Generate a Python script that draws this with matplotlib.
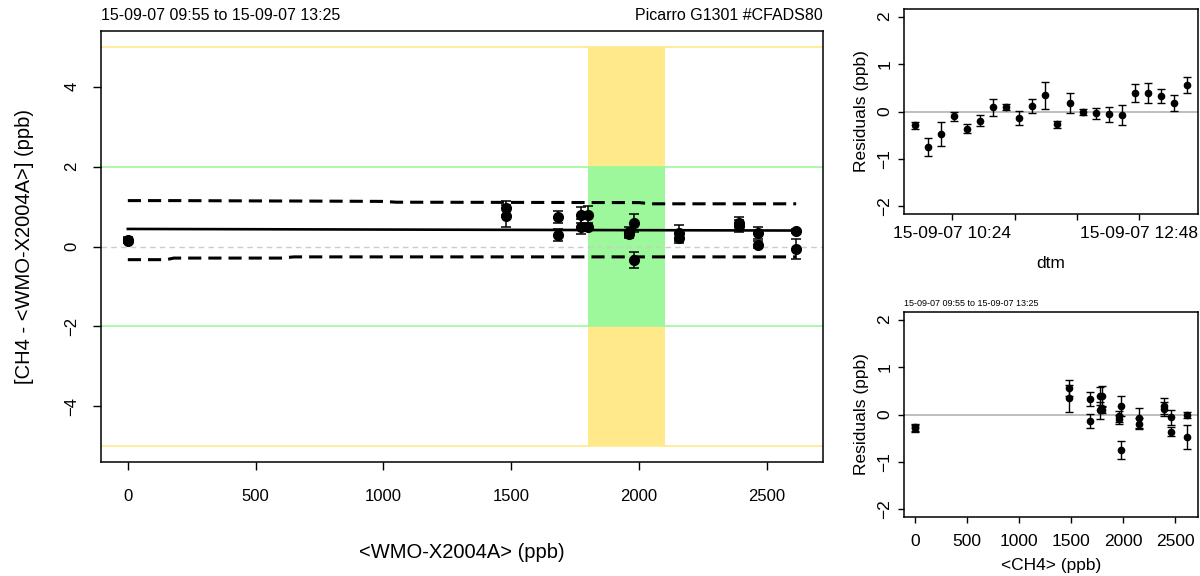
import matplotlib
matplotlib.use("Agg")
import matplotlib.pyplot as plt
import numpy as np

plt.rcParams['font.family'] = ['Liberation Sans', 'DejaVu Sans']

# one cylinder measurement every 10 minutes, two passes through the standards
times = ["09:55", "10:05", "10:15", "10:25", "10:35", "10:45", "10:55", "11:05",
         "11:15", "11:25", "11:35", "11:45", "11:55", "12:05", "12:15", "12:25",
         "12:35", "12:45", "12:55", "13:05", "13:15", "13:25"]
wmo = [0, 1980, 2615, 1960, 2465, 2155, 1775, 1800, 1685, 2390, 1480,
       0, 1980, 2615, 1960, 2465, 2155, 1775, 1800, 1685, 2390, 1480]
diff = [0.15, -0.34, -0.07, 0.31, 0.04, 0.22, 0.50, 0.50, 0.29, 0.51, 0.76,
        0.17, 0.59, 0.39, 0.37, 0.34, 0.34, 0.79, 0.80, 0.74, 0.58, 0.97]
resid = [-0.29, -0.75, -0.47, -0.10, -0.36, -0.19, 0.09, 0.09, -0.13, 0.11, 0.34,
         -0.27, 0.18, -0.01, -0.04, -0.06, -0.07, 0.38, 0.39, 0.32, 0.18, 0.55]
err = [0.07, 0.19, 0.25, 0.09, 0.09, 0.12, 0.18, 0.06, 0.15, 0.15, 0.28,
       0.08, 0.22, 0.06, 0.12, 0.16, 0.21, 0.19, 0.22, 0.15, 0.16, 0.17]

# fit and its prediction band
fit_x = [0, 2615]
fit_y = [0.44, 0.40]
band_x = [0, 150, 180, 600, 650, 1000, 1050, 2000, 2050, 2615]
band_hi = [1.15, 1.15, 1.15, 1.14, 1.14, 1.13, 1.11, 1.10, 1.07, 1.07]
band_lo = [-0.33, -0.33, -0.29, -0.29, -0.26, -0.26, -0.26, -0.26, -0.26, -0.26]

# compatibility goals and the ambient range
wmo_goal = 2
ext_goal = 5
amb_range = [1800, 2100]

period = "15-09-07 09:55 to 15-09-07 13:25"
instrument = "Picarro G1301 #CFADS80"

t_min = [int(s[:2]) * 60 + int(s[3:]) for s in times]
ch4 = np.array(wmo) + np.array(diff)

fig = plt.figure(figsize=(12, 5.76), dpi=100)
W, H = 1200, 576

def box(l, t, r, b):
    return fig.add_axes([l / W, 1 - b / H, (r - l) / W, (b - t) / H])

def r_style(ax, size, tlen):
    for s in ax.spines.values():
        s.set_linewidth(1.1)
    ax.tick_params(direction='out', length=tlen, width=1.0, labelsize=size)
    for lab in ax.get_yticklabels():
        lab.set_rotation(90)
        lab.set_va('center')

# main panel
ax = box(101, 31, 823, 462)
ax.set_xlim(-105, 2720)
ax.set_ylim(-5.4, 5.4)
ax.fill_between(amb_range, -ext_goal, ext_goal, color='#ffe98a', lw=0, zorder=1)
ax.fill_between(amb_range, -wmo_goal, wmo_goal, color='#9cf89a', lw=0, zorder=1)
for g, c in [(ext_goal, '#ffe98a'), (wmo_goal, '#9cf89a')]:
    ax.axhline(g, color=c, lw=1.2, zorder=1)
    ax.axhline(-g, color=c, lw=1.2, zorder=1)
ax.axhline(0, color='#cccccc', lw=1.0, ls=(0, (4, 3)), zorder=2)
ax.plot(fit_x, fit_y, color='black', lw=1.9, zorder=3)
ax.plot(band_x, band_hi, color='black', lw=2.2, dashes=(4.3, 2.3), zorder=3)
ax.plot(band_x, band_lo, color='black', lw=2.2, dashes=(4.3, 2.3), zorder=3)
ax.errorbar(wmo, diff, yerr=err, fmt='o', color='black', ms=7, capsize=3.6,
            elinewidth=1.1, capthick=1.1, zorder=4)
ax.set_xticks([0, 500, 1000, 1500, 2000, 2500])
ax.set_yticks([-4, -2, 0, 2, 4])
r_style(ax, 12, 5.5)
ax.tick_params(axis='x', pad=14)
ax.tick_params(axis='y', pad=10)
ax.set_xlabel("<WMO-X2004A> (ppb)", fontsize=14.5, labelpad=28)
ax.set_ylabel("[CH4 - <WMO-X2004A>] (ppb)", fontsize=14.5, labelpad=22)
ax.set_title(period, loc='left', fontsize=11.5, pad=8)
ax.set_title(instrument, loc='right', fontsize=11.5, pad=8)

# residuals against time
ax2 = box(904, 9, 1198, 214)
ax2.set_xlim(t_min[0] - 8.4, t_min[-1] + 8.4)
ax2.set_ylim(-2.16, 2.16)
ax2.axhline(0, color='#bebebe', lw=1.4, zorder=1)
ax2.errorbar(t_min, resid, yerr=err, fmt='o', color='black', ms=4.5, capsize=3,
             elinewidth=1.0, capthick=1.0, zorder=3)
ax2.set_xticks([624, 672, 720, 768])
ax2.set_xticklabels(["15-09-07 10:24", "", "", "15-09-07 12:48"])
ax2.set_yticks([-2, -1, 0, 1, 2])
r_style(ax2, 12.5, 4.5)
ax2.tick_params(axis='x', pad=4)
ax2.tick_params(axis='y', pad=4)
ax2.set_xlabel("dtm", fontsize=12.5, labelpad=11)
ax2.set_ylabel("Residuals (ppb)", fontsize=12.5, labelpad=6)

# residuals against concentration
ax3 = box(904, 312, 1198, 517)
ax3.set_xlim(-105, 2720)
ax3.set_ylim(-2.16, 2.16)
ax3.axhline(0, color='#bebebe', lw=1.4, zorder=1)
ax3.errorbar(ch4, resid, yerr=err, fmt='o', color='black', ms=4.5, capsize=3,
             elinewidth=1.0, capthick=1.0, zorder=3)
ax3.set_xticks([0, 500, 1000, 1500, 2000, 2500])
ax3.set_yticks([-2, -1, 0, 1, 2])
r_style(ax3, 12.5, 4.5)
ax3.tick_params(axis='x', pad=8)
ax3.tick_params(axis='y', pad=4)
ax3.set_xlabel("<CH4> (ppb)", fontsize=12.5, labelpad=6)
ax3.set_ylabel("Residuals (ppb)", fontsize=12.5, labelpad=6)
ax3.set_title(period, loc='left', fontsize=6.5, pad=4)

fig.savefig("out.png", dpi=100)
